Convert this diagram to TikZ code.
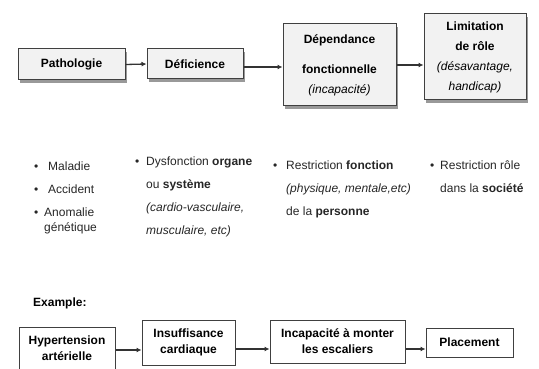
\documentclass[tikz,border=0pt]{standalone}
\usepackage{fontspec}
\setmainfont{Liberation Sans}
\usetikzlibrary{arrows.meta,shadows}
\newcommand\puce[1]{\makebox[#1][l]{\textbullet}}
\begin{document}
\begin{tikzpicture}[x=1pt,y=-1pt,
    box/.style={draw=black!75, line width=1pt, fill=white, align=center,
      font=\fontsize{12}{16}\selectfont\bfseries, inner sep=2pt},
    shadebox/.style={box, fill=black!5, font=\fontsize{12}{20}\selectfont\bfseries,
      drop shadow={shadow xshift=2pt, shadow yshift=-3pt, fill=black!40, opacity=1}},
    fleche/.style={-{Latex[length=5pt,width=5pt]}, line width=1.3pt, draw=black!80},
    liste/.style={anchor=north west, align=left, inner sep=0pt, text=black!85,
      font=\fontsize{12}{23}\selectfont}]
  \useasboundingbox (0,0) rectangle (539,369);

  % Modele
  \node[shadebox, minimum width=107pt, minimum height=31pt] (patho)  at (71.5,64.5) {Pathologie};
  \node[shadebox, minimum width=96pt,  minimum height=30pt] (defic)  at (195,64)    {Déficience};
  \node[shadebox, minimum width=113pt, minimum height=82pt] (depend) at (339.5,65)
    {Dépendance\\[10pt]fonctionnelle\\{\mdseries\itshape (incapacité)}};
  \node[shadebox, minimum width=102pt, minimum height=86pt] (limit)  at (475,57)
    {Limitation\\de rôle\\{\mdseries\itshape (désavantage,}\\{\mdseries\itshape handicap)}};

  \draw[fleche] (patho.east) -- (defic.west);
  \draw[fleche] (defic.east |- 0,67) -- (depend.west |- 0,67);
  \draw[fleche] (depend) -- (limit.west |- depend);

  % Listes
  \node[liste, font=\fontsize{12}{15}\selectfont] (causes) at (34,162)
    {\puce{14pt}Maladie\\[8pt]\puce{14pt}Accident\\[8pt]\puce{10pt}Anomalie\\\hspace{10pt}génétique};
  \node[liste] (organes) at (135,157)
    {\puce{11pt}Dysfonction \textbf{organe}\\\hspace{11pt}ou \textbf{système}\\
     \hspace{11pt}\textit{(cardio-vasculaire,}\\\hspace{11pt}\textit{musculaire, etc)}};
  \node[liste] (fonctions) at (273,161)
    {\puce{13pt}Restriction \textbf{fonction}\\\hspace{13pt}\textit{(physique, mentale,etc)}\\
     \hspace{13pt}de la \textbf{personne}};
  \node[liste] (roles) at (430,161)
    {\puce{10pt}Restriction rôle\\\hspace{10pt}dans la \textbf{société}};

  % Exemple
  \node[anchor=west, inner sep=0pt, font=\fontsize{12}{15}\selectfont\bfseries] (exemple) at (33,303) {Example:};
  \node[box, minimum width=96pt,  minimum height=42pt] (hyper)  at (67,348)    {Hypertension\\artérielle};
  \node[box, minimum width=93pt,  minimum height=45pt] (insuff) at (188.5,342.5) {Insuffisance\\cardiaque};
  \node[box, minimum width=135pt, minimum height=43pt] (incap)  at (337.5,341.5) {Incapacité à monter\\les escaliers};
  \node[box, minimum width=87pt,  minimum height=29pt] (place)  at (469.5,342.5) {Placement};

  \draw[fleche] (hyper.east |- 0,350) -- (insuff.west |- 0,350);
  \draw[fleche] (insuff.east |- 0,349) -- (incap.west |- 0,349);
  \draw[fleche] (incap.east |- 0,349) -- (place.west |- 0,349);

\end{tikzpicture}
\end{document}
